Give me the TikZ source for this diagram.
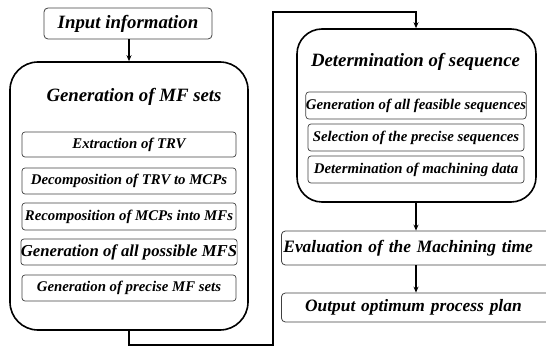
\documentclass[tikz,border=0pt]{standalone}
\usepackage{fontspec}
\setmainfont{Liberation Serif}
\usetikzlibrary{arrows.meta}
\begin{document}
\begin{tikzpicture}[x=1pt,y=-1pt,
  bigbox/.style={draw=black,line width=1.6pt,rounded corners=#1,inner sep=0pt},
  outbox/.style={draw=black!75,line width=0.8pt,rounded corners=4pt,inner sep=0pt,
     font=\fontsize{17.4}{19}\selectfont\bfseries\itshape},
  subbox/.style={draw=black!75,line width=0.7pt,rounded corners=3pt,inner sep=0pt,
     font=\fontsize{14.8}{16}\selectfont\bfseries\itshape},
  ttl/.style={inner sep=0pt,font=\fontsize{18.8}{21}\selectfont\bfseries\itshape},
  conn/.style={line width=1.4pt,-{Stealth[length=6pt,width=5pt]}}]
\useasboundingbox (0,0) rectangle (546,347);
\clip (0,0) rectangle (546,347);
% left column
\node[outbox,minimum width=168pt,minimum height=31pt,font=\fontsize{18.8}{21}\selectfont\bfseries\itshape] (inp) at (128,23.5) {Input information};
\node[bigbox=28pt,minimum width=238pt,minimum height=268pt] (mf) at (129,196) {};
\node[ttl] (mft) at (134,97) {Generation of MF sets};
\node[subbox,minimum width=214pt,minimum height=25pt] (s1) at (129,144.5) {Extraction of TRV};
\node[subbox,minimum width=214pt,minimum height=26pt] (s2) at (129,181) {Decomposition of TRV to MCPs};
\node[subbox,minimum width=214pt,minimum height=27pt] (s3) at (129,216.5) {Recomposition of MCPs into MFs};
\node[subbox,minimum width=214pt,minimum height=26pt,font=\fontsize{16.7}{18}\selectfont\bfseries\itshape] (s4) at (129,252) {Generation of all possible MFS};
\node[subbox,minimum width=214pt,minimum height=26pt] (s5) at (129,288) {Generation of precise MF sets};
% right column
\node[bigbox=25pt,minimum width=239pt,minimum height=173pt] (det) at (416.5,115.5) {};
\node[ttl] (dett) at (415.5,62) {Determination of sequence};
\node[subbox,minimum width=220pt,minimum height=27pt] (d1) at (416,105.5) {Generation of all feasible sequences};
\node[subbox,minimum width=216pt,minimum height=27pt] (d2) at (416,137.5) {Selection of the precise sequences};
\node[subbox,minimum width=216pt,minimum height=27pt] (d3) at (416,169.5) {Determination of machining data};
\node[outbox,minimum width=270pt,minimum height=34pt,anchor=west,text width=266pt,align=left,inner xsep=2pt] (ev) at (281,248) {Evaluation of the Machining time};
\node[outbox,minimum width=270pt,minimum height=29pt,anchor=west,text width=262pt,align=center,inner xsep=4pt] (op) at (281,307.5) {\hspace*{-6pt}Output optimum process plan};
% connectors
\coordinate (c1) at (129,345);
\coordinate (c2) at (273,345);
\coordinate (c3) at (273,12);
\coordinate (c4) at (416,12);
\draw[conn] (inp.south -| 129,0) -- (mf.north -| 129,0);
\draw[conn] (mf.south -| c1) -- (c1) -- (c2) -- (c3) -- (c4) -- (det.north -| c4);
\draw[conn] (det.south -| c4) -- (ev.north -| c4);
\draw[conn] (ev.south -| c4) -- (op.north -| c4);
\end{tikzpicture}
\end{document}
